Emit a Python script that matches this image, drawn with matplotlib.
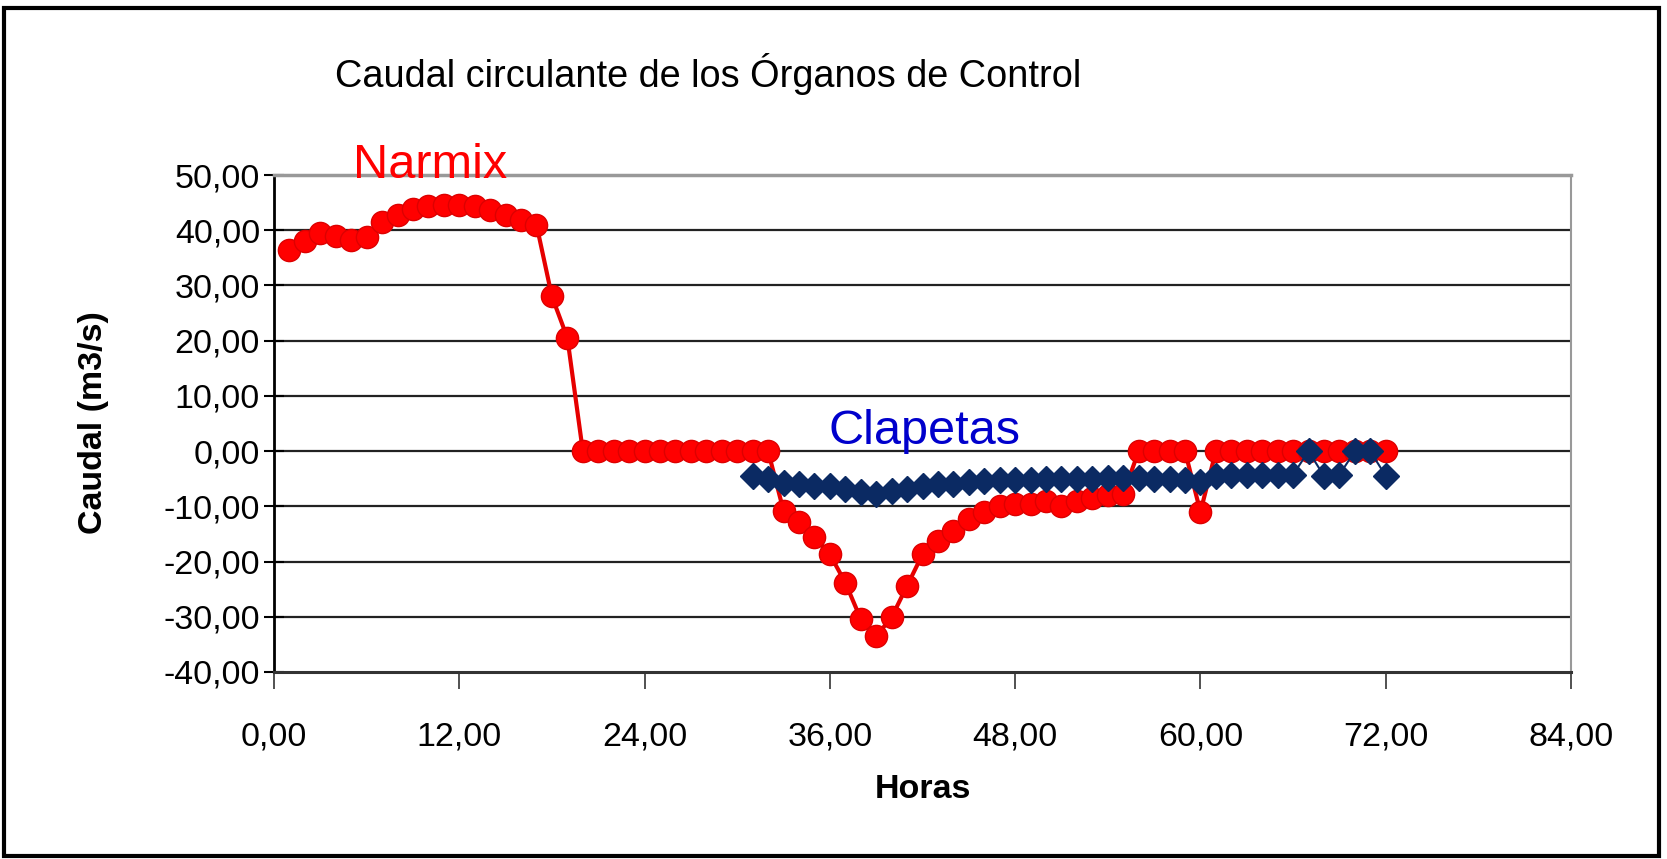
import matplotlib
matplotlib.use("Agg")
import matplotlib.pyplot as plt
from matplotlib.patches import Rectangle
from matplotlib.ticker import FuncFormatter

plt.rcParams['font.family'] = ['Liberation Sans', 'DejaVu Sans']

# ---- data ----
narmix_hours = list(range(1, 73))
narmix = [36.5, 38.0, 39.5, 39.0, 38.3, 38.8, 41.5, 42.8, 43.8, 44.3,
          44.5, 44.6, 44.3, 43.6, 42.8, 41.8, 41.0, 28.0, 20.5,
          0, 0, 0, 0, 0, 0, 0, 0, 0, 0, 0, 0, 0,
          -10.8, -12.9, -15.6, -18.7, -23.8, -30.4, -33.5, -30.1, -24.4, -18.7,
          -16.2, -14.4, -12.3, -11.0, -10.0, -9.5, -9.5, -9.0, -10.0, -9.0,
          -8.5, -8.0, -7.8,
          0, 0, 0, 0, -11.0,
          0, 0, 0, 0, 0, 0, 0, 0, 0, 0, 0, 0]

clapetas_hours = list(range(31, 73))
clapetas = [-4.5, -5.1, -5.7, -6.0, -6.3, -6.3, -6.9, -7.4, -7.8, -7.3,
            -6.9, -6.3, -6.0, -5.9, -5.6, -5.4, -5.3, -5.2, -5.2, -5.1,
            -5.1, -5.0, -5.0, -4.9, -4.8, -4.9, -5.0, -5.1, -5.2, -5.6,
            -4.5, -4.4, -4.4, -4.4, -4.4, -4.3, 0.0, -4.5, -4.3, 0.0,
            0.0, -4.5]

x_ticks = [0, 12, 24, 36, 48, 60, 72, 84]
y_ticks = [-40, -30, -20, -10, 0, 10, 20, 30, 40, 50]

title = "Caudal circulante de los Órganos de Control"
xlabel = "Horas"
ylabel = "Caudal (m3/s)"

# ---- figure ----
W, H = 1667, 859
fig = plt.figure(figsize=(W / 100, H / 100), dpi=100)
fig.patch.set_facecolor('white')

ax = fig.add_axes([274 / W, 1 - 672 / H, (1571 - 274) / W, (672 - 175) / H])

ax.set_xlim(0, 84)
ax.set_ylim(-40, 50)
ax.set_xticks(x_ticks)
ax.set_yticks(y_ticks)
fmt = FuncFormatter(lambda v, p: f"{v:.2f}".replace('.', ','))
ax.xaxis.set_major_formatter(fmt)
ax.yaxis.set_major_formatter(fmt)

for y in y_ticks[1:-1]:
    ax.axhline(y, color='#222222', lw=1.6, zorder=1)

ax.plot(narmix_hours, narmix, color='#e60000', lw=3.0, marker='o',
        markersize=16, markerfacecolor='#ff0000', markeredgecolor='#dd0000',
        zorder=3)
ax.plot(clapetas_hours, clapetas, color='#0b2a63', lw=1.5, marker='D',
        markersize=13.5, markerfacecolor='#0b2a63', markeredgecolor='#0b2a63',
        zorder=4)

ax.spines['left'].set_color('black')
ax.spines['left'].set_linewidth(2)
ax.spines['bottom'].set_color('#333333')
ax.spines['bottom'].set_linewidth(2.2)
ax.spines['top'].set_color('#999999')
ax.spines['top'].set_linewidth(2.5)
ax.spines['right'].set_color('#999999')
ax.spines['right'].set_linewidth(1.5)

ax.tick_params(axis='y', direction='inout', length=14, width=1.5,
               labelsize=24.5, pad=3, color='black')
ax.tick_params(axis='x', direction='out', length=12, width=1.2,
               labelsize=24.5, pad=24, color='#333333')

ax.set_xlabel(xlabel, fontsize=24.5, fontweight='bold', va='center')
ax.set_ylabel(ylabel, fontsize=24.5, fontweight='bold', va='center')
ax.xaxis.set_label_coords(0.5004, -0.236)
ax.yaxis.set_label_coords(-0.1388, 0.501)

fig.text(335 / W, 1 - 74 / H, title, fontsize=27.3, ha='left', va='center')
ax.text(430 / W, 1 - 166 / H, "Narmix", transform=fig.transFigure,
        color='#ff0000', fontsize=35, ha='center', va='center')
ax.text(924 / W, 1 - 431 / H, "Clapetas", transform=fig.transFigure,
        color='#0000cc', fontsize=35, ha='center', va='center')

fig.patches.append(Rectangle((4 / W, 3 / H), (1659 - 4) / W, (851 - 3) / H,
                             transform=fig.transFigure, fill=False,
                             edgecolor='black', linewidth=3))

fig.savefig("out.png", dpi=100, facecolor='white')
